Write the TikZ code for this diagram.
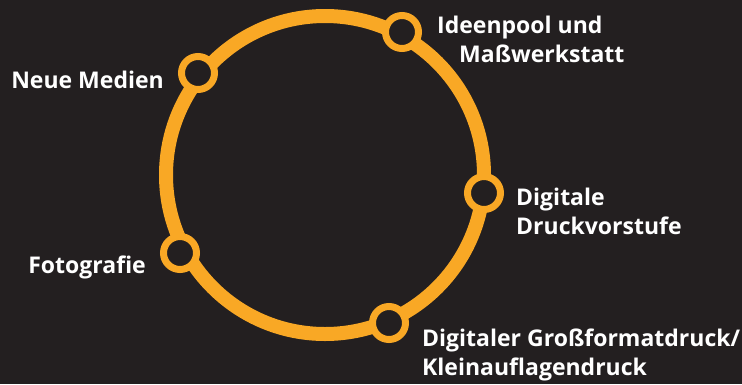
\documentclass[tikz,border=0pt]{standalone}
\usepackage{fontspec}
\setmainfont{Open Sans}
\usetikzlibrary{positioning}
\definecolor{bgdark}{HTML}{231F20}
\definecolor{ringorange}{HTML}{F9A825}

\begin{document}
\begin{tikzpicture}[%
    x=1pt,
    y=-1pt,
    ring/.style={%
      draw=ringorange,
      line width=14pt
    },
    station/.style={%
      circle,
      draw=ringorange,
      fill=bgdark,
      line width=7pt,
      minimum size=33pt,
      inner sep=0pt
    },
    stationtext/.style={%
      text=white,
      font=\bfseries\fontsize{23}{29}\selectfont,
      inner sep=0pt,
      align=left
    }
  ]
    \fill[bgdark] (0,0) rectangle (742,384);
    \useasboundingbox (0,0) rectangle (742,384);

    \coordinate (c) at (325,175);
    \draw[ring] (c) circle [radius=159pt];

    \node[station] (ideen)  at (402,32)  {};
    \node[station] (medien) at (198,73)  {};
    \node[station] (druck)  at (484,193) {};
    \node[station] (foto)   at (180,253) {};
    \node[station] (gross)  at (389,323) {};

    % multi-line texts sit on the baseline of their last line
    \node[stationtext, anchor=base west] (ideentext)  at (437,62)  {Ideenpool und\\\hspace*{22pt}Maßwerkstatt};
    \node[stationtext, anchor=base east] (medientext) at (164,88)  {Neue Medien};
    \node[stationtext, anchor=base west] (drucktext)  at (516,234) {Digitale\\Druckvorstufe};
    \node[stationtext, anchor=base east] (fototext)   at (146,273) {Fotografie};
    \node[stationtext, anchor=base west] (grosstext)  at (422,375) {Digitaler Großformatdruck/\\Kleinauflagendruck};
  \end{tikzpicture}
\end{document}
